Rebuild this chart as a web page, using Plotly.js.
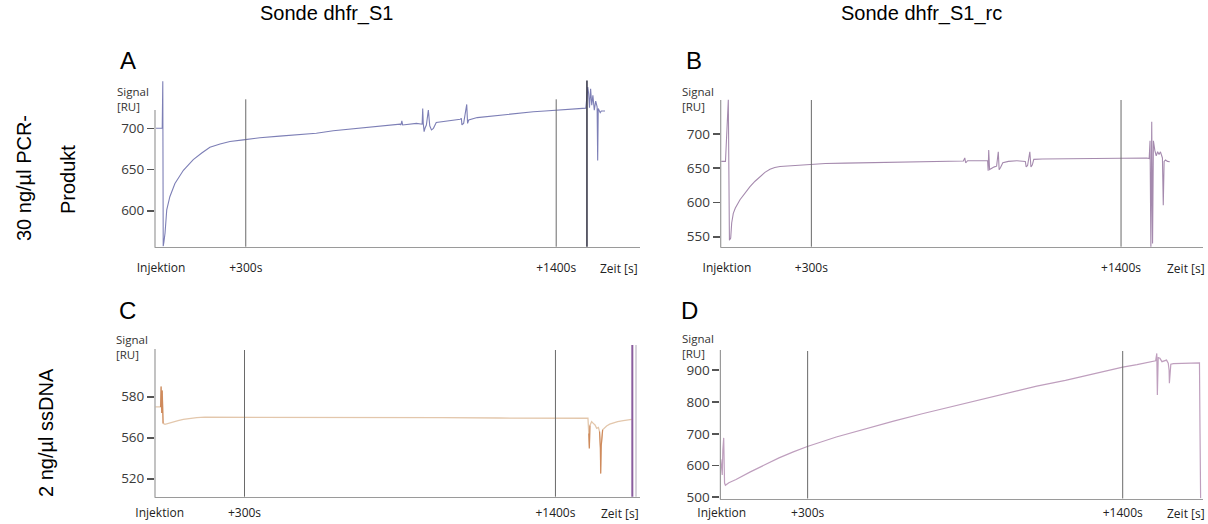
<!DOCTYPE html>
<html><head><meta charset="utf-8">
<script src="https://cdn.plot.ly/plotly-3.0.1.min.js"></script>
<style>html,body{margin:0;padding:0;background:#fff}#chart{width:1208px;height:524px}</style>
</head><body><div id="chart"></div>
<script>
// ---------------- DATA ----------------
const columnTitles = ["Sonde dhfr_S1", "Sonde dhfr_S1_rc"];
const rowLabels = [["30 ng/µl PCR-", "Produkt"], ["2 ng/µl ssDNA"]];
const panelLetters = ["A", "B", "C", "D"];
const xTickVals = [0, 300, 1400];
const xTickText = ["Injektion", "+300s", "+1400s"];
const markerTimes = [300, 1400];
const xAxisLabel = "Zeit [s]";
const yAxisLabel = "Signal<br>[RU]";

const yTickValsA = [600, 650, 700];
const yTickTextA = ["600", "650", "700"];
const yTickValsB = [550, 600, 650, 700];
const yTickTextB = ["550", "600", "650", "700"];
const yTickValsC = [540, 560, 580];
const yTickTextC = ["520", "560", "580"];
const yTickValsD = [500, 600, 700, 800, 900];
const yTickTextD = ["500", "600", "700", "800", "900"];

// Panel A: 30 ng/µl PCR-Produkt, Sonde dhfr_S1
const tA = [-18, 4, 6, 7.5, 10, 14, 20, 31, 49, 79, 114, 144, 173, 209, 244, 291, 350, 420, 492, 550, 610, 670, 729, 790, 847, 850, 853, 856, 880, 905, 925, 927, 929, 932, 935, 940, 947, 952, 958, 965, 975, 1000, 1030, 1060, 1064, 1066, 1068, 1072, 1083, 1086, 1090, 1120, 1160, 1201, 1260, 1319, 1360, 1402, 1450, 1496, 1505, 1512, 1515, 1518, 1522, 1526, 1530, 1535, 1540, 1545, 1547, 1549, 1552, 1556, 1560, 1566, 1573];
const vA = [700, 700, 757, 557, 562, 573, 601, 617, 633, 649, 662, 670, 677, 681, 684, 686, 688.5, 690.5, 692, 694, 697, 699, 701, 703, 705, 704, 709, 704, 705, 706, 705, 724, 706, 696, 700, 704, 722, 703, 698, 700, 707, 708, 709, 711, 712, 704, 705, 706, 729, 706, 710, 713, 714.5, 716, 718, 720, 721, 722, 723.5, 724.3, 724.5, 750, 742, 725, 748, 728, 740, 722, 733, 726, 661, 724, 722, 719, 721, 721, 721];
const tAregen = [1509, 1509];
const vAregen = [758, 556];

// Panel B: 30 ng/µl PCR-Produkt, Sonde dhfr_S1_rc
const tB = [-20, -5, 5, 9, 13.5, 17, 22.7, 30, 46.5, 65, 82, 100, 117.6, 135, 153, 170, 188.6, 224, 250, 283.5, 350, 420, 500, 560, 620, 700, 780, 840, 845, 848, 855, 900, 926, 928, 930, 933, 940, 950, 958, 964, 967, 972, 980, 1000, 1030, 1060, 1063, 1068, 1076, 1080, 1085, 1090, 1120, 1200, 1300, 1400, 1491, 1500, 1503, 1506, 1509, 1512, 1515, 1520, 1525, 1530, 1535, 1540, 1544, 1547, 1550, 1553, 1558, 1565, 1573];
const vB = [660, 660, 750, 545, 548, 570, 584, 592, 604, 614, 623, 631, 638, 644, 648.5, 651, 652.5, 653.5, 655, 656.2, 657, 657.5, 658, 658, 658.5, 659.5, 660, 660.5, 665, 658, 661, 661, 661, 646.5, 676.5, 648, 650, 652, 653, 674, 648, 651, 658, 660, 661, 660, 652, 654, 674, 652, 655, 663, 663.5, 664, 664.5, 664.5, 665, 664, 690, 530, 718, 540, 690, 676, 668, 674, 670, 674, 667, 665, 596, 660, 662, 660, 659.5];

// Panel C: 2 ng/µl ssDNA, Sonde dhfr_S1
const tC = [-15, 3, 5, 7, 9, 12, 18.7, 30, 48, 65, 83.5, 105, 131, 160, 190, 250, 400, 600, 800, 1000, 1200, 1400, 1515, 1518, 1520, 1522, 1528, 1534, 1540, 1546, 1552, 1556, 1559, 1560, 1562, 1567, 1574, 1581, 1592, 1605, 1620, 1640, 1655, 1670];
const vC = [575, 575, 585, 572, 583, 567, 566.5, 567, 567.6, 568.3, 568.9, 569.4, 569.8, 570, 570, 570, 570, 570, 570, 569.8, 569.6, 569.5, 569.5, 562, 554.8, 566, 567.8, 567, 566.2, 564.6, 565, 563, 555, 542.6, 556, 563.8, 565, 565.7, 566.6, 567.3, 567.9, 568.3, 568.6, 568.9];
const tCspikes = [3, 5, 7, 9, 12, null, 1518, 1520, 1522, null, 1556, 1559, 1560, 1562, 1567];
const vCspikes = [575, 585, 572, 583, 567, null, 562, 554.8, 566, null, 563, 555, 542.6, 556, 563.8];
const tCend = [1672, 1672];
const vCend = [531, 606];
const tCend2 = [1685, 1685];
const vCend2 = [531, 606];

// Panel D: 2 ng/µl ssDNA, Sonde dhfr_S1_rc
const tD = [-3, 2, 4, 7, 10, 13, 25, 50, 100, 150, 200, 250, 299, 400, 500, 600, 700, 800, 900, 1000, 1100, 1200, 1300, 1400, 1450, 1500, 1507, 1515, 1519, 1521, 1524, 1530, 1537, 1545, 1553, 1559, 1562, 1563, 1565, 1568, 1577, 1600, 1630, 1664, 1668, 1670, 1672];
const vD = [620, 570, 650, 687, 545, 538, 546, 556, 580, 603, 624, 643, 660, 690, 716, 740, 763, 785, 806, 830, 850, 868, 890, 910, 918, 926, 927, 930, 953, 822, 940, 937.6, 927, 930, 932, 922, 900, 859, 905, 919, 921, 922, 922, 923, 923, 700, 497];

// ---------------- LAYOUT GEOMETRY (pixels) ----------------
const W = 1208, H = 524;
const PX = p => p / W;
const PY = p => 1 - p / H;
const geo = {
  A: {l: 155, r: 640, t: 80, b: 246.7, xp0: 161.1, xs: 0.28221, yv: 700, yp: 128.3, ys: 0.824, axTop: 110, vTop: 99.3, sigX: 115, sigY: 82, zeitX: 619, letX: 128, letY: 61, tl: 10, zy: 22},
  B: {l: 720.7, r: 1203, t: 80, b: 246.7, xp0: 726.9, xs: 0.28153, yv: 700, yp: 134, ys: 0.6847, axTop: 100, vTop: 100, sigX: 680, sigY: 82, zeitX: 1186, letX: 694, letY: 61, tl: 10, zy: 22},
  C: {l: 155, r: 640, t: 345, b: 496.7, xp0: 159.7, xs: 0.28267, yv: 580, yp: 396.7, ys: 2.05, axTop: 349, vTop: 350, sigX: 114, sigY: 330, zeitX: 620, letX: 127, letY: 310, tl: 5, zy: 17},
  D: {l: 720.4, r: 1203, t: 345, b: 498.5, xp0: 721.7, xs: 0.28643, yv: 700, yp: 433.78, ys: 0.3176, axTop: 350, vTop: 351, sigX: 680, sigY: 329, zeitX: 1186, letX: 689, letY: 310, tl: 3, zy: 15}
};
const xr = g => [(g.l - g.xp0) / g.xs, (g.r - g.xp0) / g.xs];
const yr = g => [g.yv - (g.b - g.yp) / g.ys, g.yv + (g.yp - g.t) / g.ys];

const FONT = "Open Sans, Liberation Sans, Arial, sans-serif";
const ARIAL = "Liberation Sans, Arial, sans-serif";

function xAxis(g, anchor) {
  return {domain: [PX(g.l), PX(g.r)], range: xr(g), anchor: anchor,
    showline: true, linecolor: '#9a9a9a', linewidth: 1.2, mirror: false,
    tickmode: 'array', tickvals: xTickVals, ticktext: xTickText,
    ticks: 'outside', ticklen: g.tl, tickcolor: 'rgba(0,0,0,0)',
    tickfont: {family: FONT, size: 12, color: '#222'},
    showgrid: false, zeroline: false, fixedrange: true};
}
function yAxis(g, anchor, tv, tt) {
  return {domain: [PY(g.b), PY(g.t)], range: yr(g), anchor: anchor,
    showline: false, tickmode: 'array', tickvals: tv, ticktext: tt,
    ticks: 'outside', ticklen: 7, tickwidth: 1.6, tickcolor: '#555',
    tickfont: {family: FONT, size: 13.5, color: '#3a3a3a'},
    showgrid: false, zeroline: false, fixedrange: true};
}

const traces = [
  {x: tA, y: vA, xaxis: 'x', yaxis: 'y', mode: 'lines', line: {color: '#7d7fb6', width: 1.1}},
  {x: tAregen, y: vAregen, xaxis: 'x', yaxis: 'y', mode: 'lines', line: {color: '#3a3a4a', width: 1.6}},
  {x: tB, y: vB, xaxis: 'x2', yaxis: 'y2', mode: 'lines', line: {color: '#a58aae', width: 1.1}},
  {x: tC, y: vC, xaxis: 'x3', yaxis: 'y3', mode: 'lines', line: {color: '#e3c7ac', width: 1.3}},
  {x: tCspikes, y: vCspikes, xaxis: 'x3', yaxis: 'y3', mode: 'lines', connectgaps: false, line: {color: '#cf8a5c', width: 1.1}},
  {x: tCend, y: vCend, xaxis: 'x3', yaxis: 'y3', mode: 'lines', line: {color: '#8a5d9e', width: 2}},
  {x: tCend2, y: vCend2, xaxis: 'x3', yaxis: 'y3', mode: 'lines', line: {color: '#b0a8b8', width: 1}},
  {x: tD, y: vD, xaxis: 'x4', yaxis: 'y4', mode: 'lines', line: {color: '#bf9fbe', width: 1.2}}
];

const shapes = [];
const annotations = [];
const panels = [['A', 'x'], ['B', 'x2'], ['C', 'x3'], ['D', 'x4']];
panels.forEach(([k, xref], i) => {
  const g = geo[k];
  shapes.push({type: 'line', xref: 'paper', yref: 'paper', x0: PX(g.l), x1: PX(g.l), y0: PY(g.b + 1), y1: PY(g.axTop), line: {color: '#9a9a9a', width: 1.2}});
  markerTimes.forEach(t => shapes.push({type: 'line', xref: xref, yref: 'paper', x0: t, x1: t, y0: PY(g.b), y1: PY(g.vTop), line: {color: '#6a6a6a', width: 1}}));
  annotations.push({xref: 'paper', yref: 'paper', x: PX(g.sigX), y: PY(g.sigY), xanchor: 'left', yanchor: 'top', align: 'left', showarrow: false, text: yAxisLabel, font: {family: FONT, size: 11.5, color: '#333'}});
  annotations.push({xref: 'paper', yref: 'paper', x: PX(g.zeitX), y: PY(g.b + g.zy), xanchor: 'center', yanchor: 'middle', showarrow: false, text: xAxisLabel, font: {family: FONT, size: 12, color: '#222'}});
  annotations.push({xref: 'paper', yref: 'paper', x: PX(g.letX), y: PY(g.letY), xanchor: 'center', yanchor: 'middle', showarrow: false, text: panelLetters[i], font: {family: ARIAL, size: 24, color: '#000'}});
});
annotations.push({xref: 'paper', yref: 'paper', x: PX(326), y: PY(14), xanchor: 'center', yanchor: 'middle', showarrow: false, text: columnTitles[0], font: {family: ARIAL, size: 20, color: '#000'}});
annotations.push({xref: 'paper', yref: 'paper', x: PX(921), y: PY(14), xanchor: 'center', yanchor: 'middle', showarrow: false, text: columnTitles[1], font: {family: ARIAL, size: 20, color: '#000'}});
annotations.push({xref: 'paper', yref: 'paper', x: PX(24), y: PY(178), xanchor: 'center', yanchor: 'middle', showarrow: false, textangle: -90, text: rowLabels[0][0], font: {family: ARIAL, size: 20, color: '#000'}});
annotations.push({xref: 'paper', yref: 'paper', x: PX(68), y: PY(180), xanchor: 'center', yanchor: 'middle', showarrow: false, textangle: -90, text: rowLabels[0][1], font: {family: ARIAL, size: 20, color: '#000'}});
annotations.push({xref: 'paper', yref: 'paper', x: PX(46), y: PY(433), xanchor: 'center', yanchor: 'middle', showarrow: false, textangle: -90, text: rowLabels[1][0], font: {family: ARIAL, size: 20, color: '#000'}});

const layout = {
  width: W, height: H, margin: {l: 0, r: 0, t: 0, b: 0},
  paper_bgcolor: '#fff', plot_bgcolor: 'rgba(0,0,0,0)', showlegend: false,
  xaxis: xAxis(geo.A, 'y'), yaxis: yAxis(geo.A, 'x', yTickValsA, yTickTextA),
  xaxis2: xAxis(geo.B, 'y2'), yaxis2: yAxis(geo.B, 'x2', yTickValsB, yTickTextB),
  xaxis3: xAxis(geo.C, 'y3'), yaxis3: yAxis(geo.C, 'x3', yTickValsC, yTickTextC),
  xaxis4: xAxis(geo.D, 'y4'), yaxis4: yAxis(geo.D, 'x4', yTickValsD, yTickTextD),
  shapes: shapes, annotations: annotations
};
Plotly.newPlot('chart', traces, layout, {displayModeBar: false, staticPlot: true});
</script></body></html>
